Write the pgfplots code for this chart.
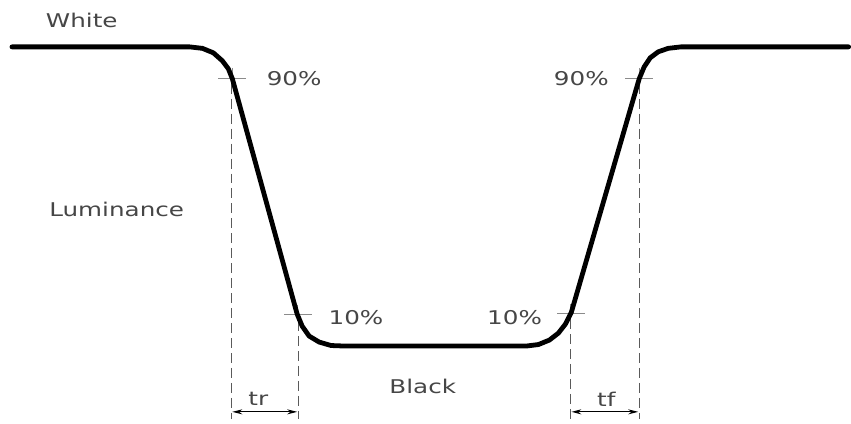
\documentclass[border=0pt]{standalone}
\usepackage{pgfplots}
\pgfplotsset{compat=1.18}
\usepackage{fontspec}
\setmainfont{DejaVu Sans}
\usetikzlibrary{arrows.meta}
\definecolor{txt}{RGB}{70,70,70}
\definecolor{dsh}{RGB}{90,90,90}
\begin{document}
\begin{tikzpicture}
\begin{axis}[x=1pt,y=1pt,xmin=0,xmax=851,ymin=0,ymax=425,y dir=reverse,
  hide axis, clip=false, scale only axis]
\draw[draw=none] (axis cs:0,0) rectangle (axis cs:851,425);
% dashed guides
\addplot[dsh, line width=1.3pt, dash pattern=on 10pt off 5pt] coordinates {(232,84) (232,420)};
\addplot[dsh, line width=1.3pt, dash pattern=on 10pt off 5pt] coordinates {(299,322) (299,420)};
\addplot[dsh, line width=1.3pt, dash pattern=on 10pt off 5pt] coordinates {(572,320) (572,420)};
\addplot[dsh, line width=1.3pt, dash pattern=on 10pt off 5pt] coordinates {(641,84) (641,420)};
% crosses
\addplot[dsh!70, line width=0.9pt] coordinates {(219,79) (247,79)};
\addplot[dsh!70, line width=0.9pt] coordinates {(233,68) (233,84)};
\addplot[dsh!70, line width=0.9pt] coordinates {(627,79) (655,79)};
\addplot[dsh!70, line width=0.9pt] coordinates {(641,68) (641,84)};
\addplot[dsh!70, line width=0.9pt] coordinates {(285,315) (313,315)};
\addplot[dsh!70, line width=0.9pt] coordinates {(298,306) (298,322)};
\addplot[dsh!70, line width=0.9pt] coordinates {(559,314) (587,314)};
\addplot[dsh!70, line width=0.9pt] coordinates {(572,305) (572,320)};
% arrows
\addplot[black, line width=1.2pt, {Stealth[length=10pt,width=5pt]}-{Stealth[length=10pt,width=5pt]}] coordinates {(233,413) (298,413)};
\addplot[black, line width=1.2pt, {Stealth[length=10pt,width=5pt]}-{Stealth[length=10pt,width=5pt]}] coordinates {(573,413) (640,413)};
% luminance curve
\addplot[black, line width=4.8pt, line join=round, line cap=round] coordinates {
(12,47)(190,47)(203,48.5)(214,53)(223,61)(229,69)(233,79)
(298,315)(303,327)(310,337)(320,343)(332,346.5)(345,347)
(528,347)(540,345.5)(551,341)(560,334)(567,325)(573,313)
(641,79)(646,67)(652,58)(660,52)(670,48.5)(683,47)(851,47)};
% texts
\tikzset{lbl/.style={txt, font=\fontsize{19}{22}\selectfont, xscale=1.3}}
\node[lbl] at (axis cs:82,20) {White};
\node[lbl] at (axis cs:295,79) {90\%};
\node[lbl] at (axis cs:583,79) {90\%};
\node[lbl] at (axis cs:117,210) {Luminance};
\node[lbl] at (axis cs:357,318) {10\%};
\node[lbl] at (axis cs:516,318) {10\%};
\node[lbl] at (axis cs:424,388) {Black};
\node[lbl] at (axis cs:259,400) {tr};
\node[lbl] at (axis cs:608,400) {tf};
\end{axis}
\end{tikzpicture}
\end{document}
